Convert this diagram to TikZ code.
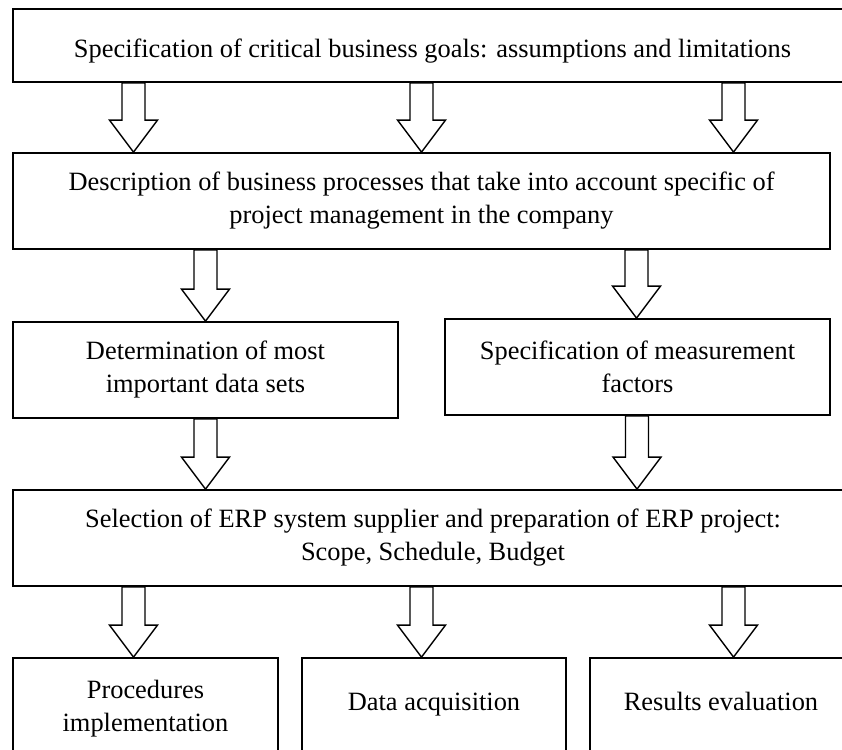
\documentclass[tikz,border=0pt]{standalone}
\usepackage{fontspec}
\setmainfont{Liberation Serif}
\usetikzlibrary{calc}

\tikzset{
	box/.style={draw, rectangle, line width=1.8pt, align=center, inner sep=0pt,
		font=\fontsize{26.4}{33}\selectfont},
	hollow/.style={draw, line width=1.4pt, line join=miter},
}

% hollow block arrow at x=#1 from the bottom of #2 down to the top of #3
\newcommand{\blockarrow}[3]{%
	\draw[hollow] let \p1=(#2.south), \p2=(#3.north) in
		({#1pt-11.5pt},\y1) -- ({#1pt-11.5pt},\y2+32pt) -- ({#1pt-24pt},\y2+32pt)
		-- ({#1pt},\y2) -- ({#1pt+24pt},\y2+32pt) -- ({#1pt+11.5pt},\y2+32pt)
		-- ({#1pt+11.5pt},\y1) -- cycle;}

\begin{document}
\begin{tikzpicture}[x=1pt, y=1pt]
	\useasboundingbox (0,0) rectangle (842,749);
	\clip (0,0) rectangle (842,749);

	% Boxes:
	\node[box, minimum width=839pt, minimum height=73pt, text height=25pt, text depth=0pt] (goals) at (432.5,703.5)
		{Specification of critical business goals: assumptions and limitations};
	\node[box, minimum width=817pt, minimum height=96pt] (processes) at (421.5,548)
		{Description of business processes that take into account specific of\\project management in the company};
	\node[box, minimum width=385pt, minimum height=96pt] (datasets) at (205.5,379)
		{Determination of most\\important data sets};
	\node[box, minimum width=385pt, minimum height=96pt] (factors) at (637.5,382)
		{Specification of measurement\\factors};
	\node[box, minimum width=840pt, minimum height=96pt] (supplier) at (433,211)
		{Selection of ERP system supplier and preparation of ERP project:\\Scope, Schedule, Budget};
	\node[box, minimum width=265pt, minimum height=101pt] (procedures) at (145.5,40.5)
		{Procedures\\implementation};
	\node[box, minimum width=264pt, minimum height=101pt, text depth=14pt] (acquisition) at (434,40.5)
		{Data acquisition};
	\node[box, minimum width=262pt, minimum height=101pt, text depth=14pt] (evaluation) at (721,40.5)
		{Results evaluation};

	% Arrows:
	\blockarrow{133.5}{goals}{processes}
	\blockarrow{421.5}{goals}{processes}
	\blockarrow{733.5}{goals}{processes}

	\blockarrow{205.5}{processes}{datasets}
	\blockarrow{636.5}{processes}{factors}

	\blockarrow{205.5}{datasets}{supplier}
	\blockarrow{637}{factors}{supplier}

	\blockarrow{133.5}{supplier}{procedures}
	\blockarrow{421.5}{supplier}{acquisition}
	\blockarrow{733.5}{supplier}{evaluation}

\end{tikzpicture}
\end{document}
